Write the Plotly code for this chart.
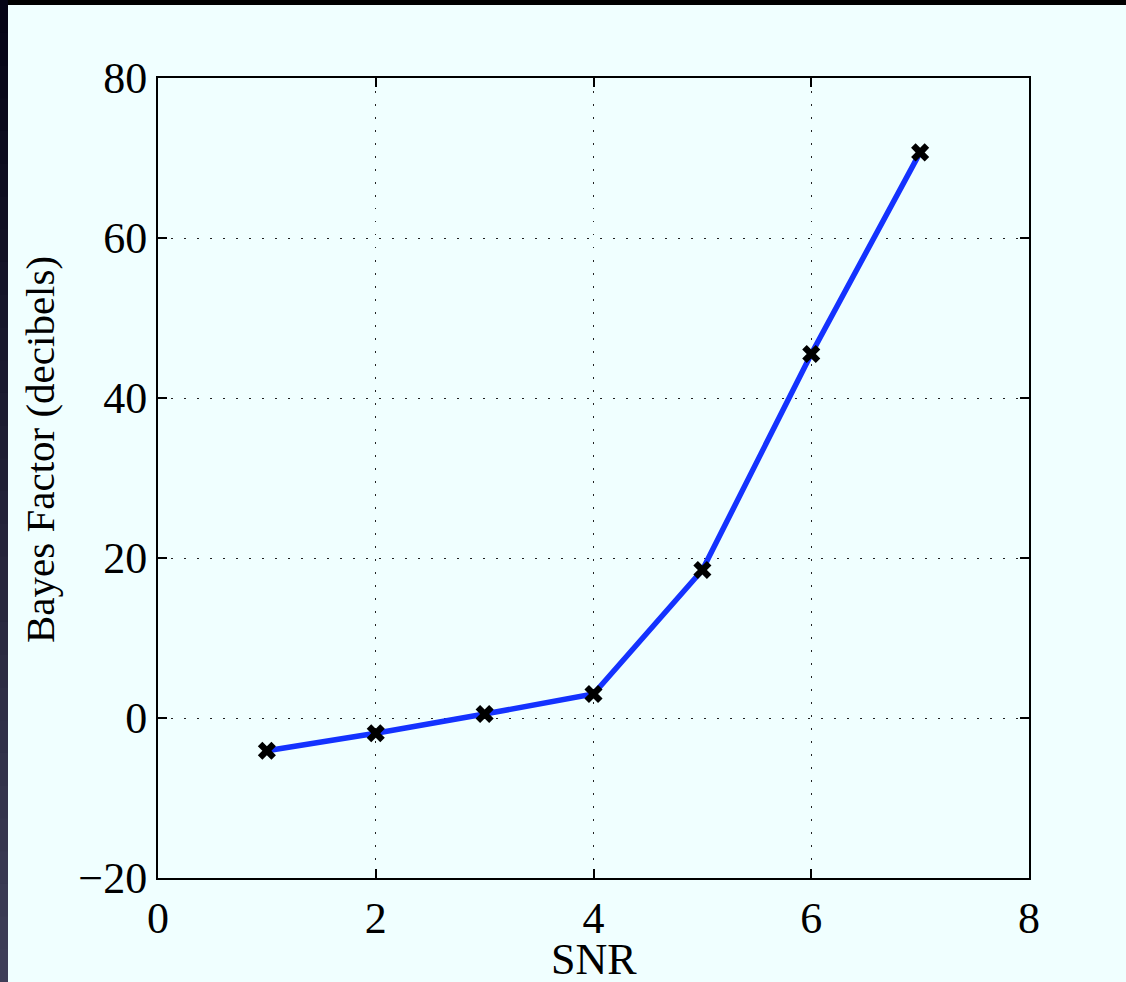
import plotly.graph_objects as go

snr = [1, 2, 3, 4, 5, 6, 7]
bayes_db = [-4.1, -1.9, 0.5, 3.0, 18.5, 45.5, 70.7]
x_ticks = [0, 2, 4, 6, 8]
y_ticks = [-20, 0, 20, 40, 60, 80]

W, H = 1126, 982
L, R, T, B = 158, 1126 - 1029, 78, 982 - 878
pw, ph = W - L - R, H - T - B

def px_x(p):
    return (p - L) / pw

def px_y(p):
    return (H - B - p) / ph

serif = "Liberation Serif"
tick_font = dict(family=serif, size=44, color="black")
label_font = dict(family=serif, size=44, color="black")
ytitle_font = dict(family=serif, size=41, color="black")

fig = go.Figure()
fig.add_trace(go.Scatter(
    x=snr, y=bayes_db, mode="lines+markers",
    line=dict(color="#1432ff", width=5.5),
    marker=dict(symbol="x", size=16, color="black", line=dict(width=0)),
    showlegend=False,
))

shapes = []
# black top strip
shapes.append(dict(type="rect", xref="paper", yref="paper",
                   x0=px_x(0), x1=px_x(W), y0=px_y(5), y1=px_y(0),
                   fillcolor="black", line=dict(width=0), layer="below"))
# left gradient strip
n = 30
step = H / n
for i in range(n):
    t = i / (n - 1)
    r = int(5 + t * (62 - 5))
    g = int(5 + t * (62 - 5))
    b = int(22 + t * (88 - 22))
    y0 = i * step
    y1 = min(H, (i + 1) * step + 2)
    shapes.append(dict(type="rect", xref="paper", yref="paper",
                       x0=px_x(0), x1=px_x(8), y0=px_y(y1), y1=px_y(y0),
                       fillcolor=f"rgb({r},{g},{b})", line=dict(width=0), layer="below"))

axis_common = dict(
    showline=True, linecolor="black", linewidth=2, mirror="ticks",
    ticks="inside", ticklen=9, tickwidth=1.5, tickcolor="black",
    showgrid=True, gridcolor="#222222", gridwidth=1.2, griddash="1.5px,11.5px",
    zeroline=False, tickfont=tick_font,
)

fig.update_layout(
    width=W, height=H,
    margin=dict(l=L, r=R, t=T, b=B, pad=0),
    paper_bgcolor="#f0ffff", plot_bgcolor="#f0ffff",
    shapes=shapes,
    xaxis=dict(range=[0, 8], tickvals=x_ticks, **axis_common),
    yaxis=dict(range=[-20, 80], tickvals=y_ticks, **axis_common),
    annotations=[
        dict(text="SNR", xref="paper", yref="paper", x=0.5, y=px_y(959),
             showarrow=False, font=label_font, xanchor="center", yanchor="middle"),
        dict(text="Bayes Factor (decibels)", xref="paper", yref="paper",
             x=px_x(40), y=px_y(450), textangle=-90, showarrow=False,
             font=ytitle_font, xanchor="center", yanchor="middle"),
    ],
)

fig.write_html(
    "out.html",
    config={"displayModeBar": False},
    post_script="document.body.style.margin='0';document.body.style.padding='0';"
                "document.body.style.overflow='hidden';",
)
